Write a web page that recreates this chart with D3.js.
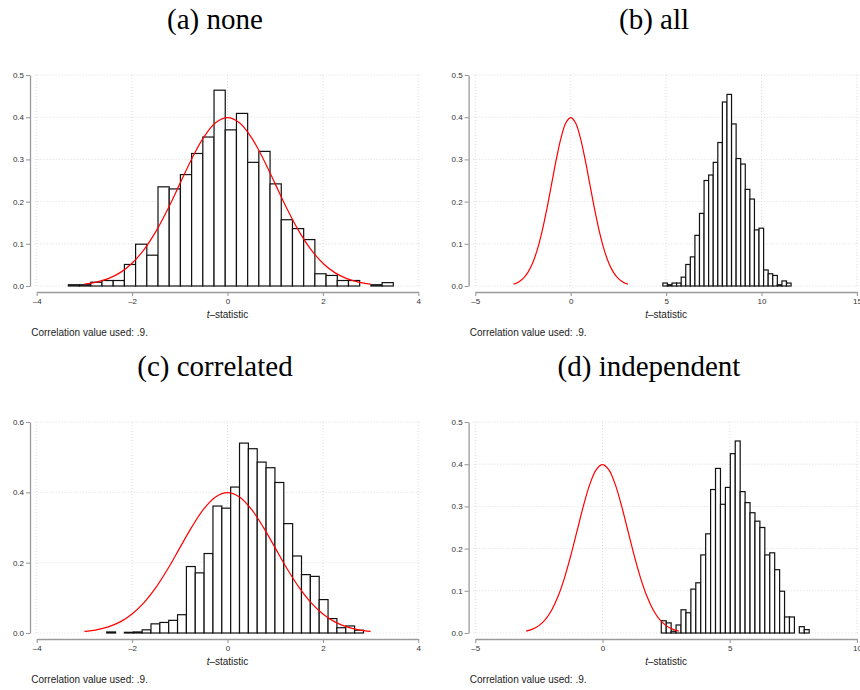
<!DOCTYPE html>
<html>
<head>
<meta charset="utf-8">
<script src="https://cdn.jsdelivr.net/npm/d3@7"></script>
<style>
  body { margin: 0; background: #fff; }
  svg { display: block; }
  .title { font-family: "Liberation Serif", "Times New Roman", serif; font-size: 29px; fill: #000; }
  .tick text { font-family: "Liberation Sans", Arial, sans-serif; font-size: 8px; fill: #333; }
  .lbl { font-family: "Liberation Sans", Arial, sans-serif; font-size: 10px; fill: #222; }
</style>
</head>
<body>
<svg id="chart" width="860" height="690"></svg>
<script>
// bar heights (density), left to right
var noneHeights = [0.003, 0.003, 0.009, 0.013, 0.013, 0.051, 0.099, 0.073, 0.235, 0.230,
                   0.264, 0.314, 0.353, 0.464, 0.370, 0.409, 0.293, 0.319, 0.242, 0.157,
                   0.136, 0.110, 0.029, 0.025, 0.013, 0.013, 0, 0.003, 0.008];
var allHeights = [0.007, 0.003, 0.007, 0.007, 0.021, 0.051, 0.069, 0.120, 0.172, 0.250,
                  0.263, 0.293, 0.340, 0.436, 0.454, 0.384, 0.302, 0.289, 0.229, 0.206,
                  0.133, 0.137, 0.038, 0.029, 0.025, 0.003, 0.012, 0.007];
var corrHeights = [0.003, 0, 0.002, 0.003, 0.009, 0.026, 0.030, 0.036, 0.052, 0.189,
                   0.171, 0.226, 0.361, 0.355, 0.415, 0.540, 0.524, 0.486, 0.470, 0.428,
                   0.311, 0.219, 0.166, 0.161, 0.095, 0.041, 0.015, 0.020, 0.008];
var indepHeights = [0.029, 0.024, 0.004, 0.019, 0.055, 0.048, 0.104, 0.119, 0.185, 0.235,
                    0.340, 0.390, 0.305, 0.345, 0.425, 0.455, 0.335, 0.309, 0.285, 0.265,
                    0.250, 0.185, 0.190, 0.150, 0.099, 0.038, 0.038, 0, 0.015, 0.008];

// first bin edge and bin width of each histogram
var noneBins = [-3.336, 0.2349];
var allBins = [4.83, 0.24];
var corrBins = [-2.532, 0.1856];
var indepBins = [2.311, 0.1938];

// red reference curve (standard normal density), read at steps of 0.25 from -3 to 3
var curveX = [-3, -2.75, -2.5, -2.25, -2, -1.75, -1.5, -1.25, -1, -0.75, -0.5, -0.25, 0,
              0.25, 0.5, 0.75, 1, 1.25, 1.5, 1.75, 2, 2.25, 2.5, 2.75, 3];
var curveY = [0.0044, 0.0091, 0.0175, 0.0317, 0.054, 0.0863, 0.1295, 0.1826, 0.242, 0.3011,
              0.3521, 0.3867, 0.3989, 0.3867, 0.3521, 0.3011, 0.242, 0.1826, 0.1295, 0.0863,
              0.054, 0.0317, 0.0175, 0.0091, 0.0044];

var titles = ["(a) none", "(b) all", "(c) correlated", "(d) independent"];
var xTicksNarrow = [-4, -2, 0, 2, 4];
var xTicksAll = [-5, 0, 5, 10, 15];
var xTicksIndep = [-5, 0, 5, 10];
var yTicks5 = [0, 0.1, 0.2, 0.3, 0.4, 0.5];
var yTicks6 = [0, 0.2, 0.4, 0.6];
var note = "Correlation value used: .9.";

var svg = d3.select("#chart");

var panels = [
  { title: titles[0], heights: noneHeights, bins: noneBins, xTicks: xTicksNarrow, yTicks: yTicks5, ox: 0, oy: 0, tx: 215 },
  { title: titles[1], heights: allHeights, bins: allBins, xTicks: xTicksAll, yTicks: yTicks5, ox: 438.6, oy: 0, tx: 654 },
  { title: titles[2], heights: corrHeights, bins: corrBins, xTicks: xTicksNarrow, yTicks: yTicks6, ox: 0, oy: 347, tx: 215 },
  { title: titles[3], heights: indepHeights, bins: indepBins, xTicks: xTicksIndep, yTicks: yTicks5, ox: 438.6, oy: 347, tx: 649 }
];

panels.forEach(drawPanel);

function drawPanel(p) {
  var left = p.ox + 36.7, right = p.ox + 418.3;
  var top = p.oy + 75, bottom = p.oy + 286;

  var x = d3.scaleLinear()
    .domain([p.xTicks[0], p.xTicks[p.xTicks.length - 1]])
    .range([left, right]);
  var y = d3.scaleLinear()
    .domain([0, p.yTicks[p.yTicks.length - 1]])
    .range([bottom, top]);

  var g = svg.append("g");

  // title above the panel
  g.append("text")
    .attr("class", "title")
    .attr("x", p.tx)
    .attr("y", p.oy + 29)
    .attr("text-anchor", "middle")
    .text(p.title);

  // dotted grid
  g.append("g").selectAll("line")
    .data(p.yTicks)
    .enter().append("line")
    .attr("x1", left - 2).attr("x2", right + 4)
    .attr("y1", function (d) { return y(d); })
    .attr("y2", function (d) { return y(d); })
    .attr("stroke", "#d4d4d4").attr("stroke-width", 0.8)
    .attr("stroke-dasharray", "1,2");
  g.append("g").selectAll("line")
    .data(p.xTicks)
    .enter().append("line")
    .attr("x1", function (d) { return x(d); })
    .attr("x2", function (d) { return x(d); })
    .attr("y1", top).attr("y2", bottom)
    .attr("stroke", "#d4d4d4").attr("stroke-width", 0.8)
    .attr("stroke-dasharray", "1,2");

  // histogram bars (empty bins are skipped)
  var bars = p.heights.map(function (h, i) {
    return { x0: p.bins[0] + i * p.bins[1], x1: p.bins[0] + (i + 1) * p.bins[1], h: h };
  }).filter(function (b) { return b.h > 0; });

  g.append("g").selectAll("rect")
    .data(bars)
    .enter().append("rect")
    .attr("x", function (b) { return x(b.x0); })
    .attr("width", function (b) { return x(b.x1) - x(b.x0); })
    .attr("y", function (b) { return y(b.h); })
    .attr("height", function (b) { return y(0) - y(b.h); })
    .attr("fill", "#fff")
    .attr("stroke", "#111")
    .attr("stroke-width", 1.2);

  // normal density curve
  var line = d3.line()
    .x(function (d) { return x(d[0]); })
    .y(function (d) { return y(d[1]); })
    .curve(d3.curveCatmullRom);
  g.append("path")
    .datum(d3.zip(curveX, curveY))
    .attr("d", line)
    .attr("fill", "none")
    .attr("stroke", "#f00")
    .attr("stroke-width", 1.2);

  // axes
  var xAxis = d3.axisBottom(x)
    .tickValues(p.xTicks)
    .tickSize(4).tickSizeOuter(0).tickPadding(2)
    .tickFormat(function (d) { return d < 0 ? "\u2013" + Math.abs(d) : d; });
  var yAxis = d3.axisLeft(y)
    .tickValues(p.yTicks)
    .tickSize(4).tickSizeOuter(0).tickPadding(2)
    .tickFormat(d3.format(".1f"));

  var gx = g.append("g")
    .attr("transform", "translate(0," + (bottom + 6) + ")")
    .call(xAxis);
  var gy = g.append("g")
    .attr("transform", "translate(" + (left - 6.7) + ",0)")
    .call(yAxis);
  [gx, gy].forEach(function (a) {
    a.select(".domain").attr("stroke", "#9a9a9a").attr("stroke-width", 1.3);
    a.selectAll(".tick line").attr("stroke", "#9a9a9a").attr("stroke-width", 1.1);
  });

  // axis title with italic t
  var xt = g.append("text")
    .attr("class", "lbl")
    .attr("x", (left + right) / 2)
    .attr("y", bottom + 32)
    .attr("text-anchor", "middle");
  xt.append("tspan").attr("font-style", "italic").text("t");
  xt.append("tspan").text("\u2013statistic");

  // note below
  g.append("text")
    .attr("class", "lbl")
    .attr("x", left - 5.5)
    .attr("y", bottom + 50)
    .text(note);
}
</script>
</body>
</html>
